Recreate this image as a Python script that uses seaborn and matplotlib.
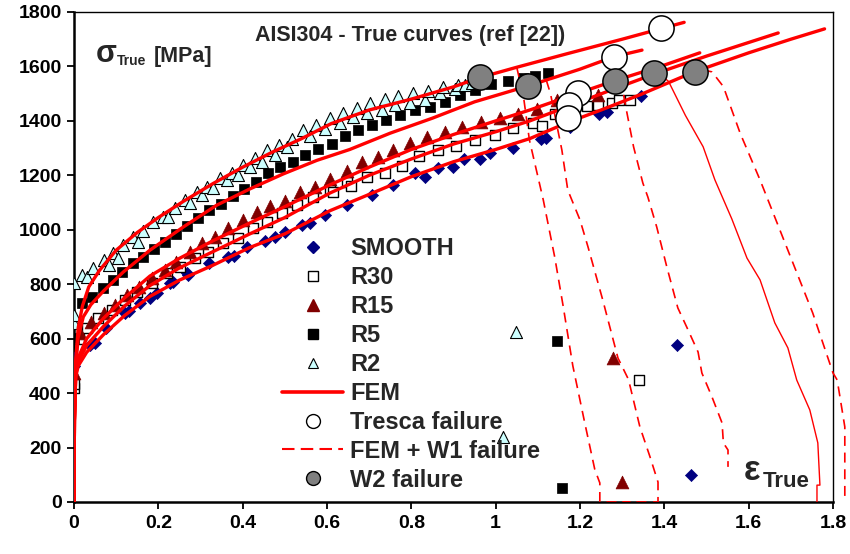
import numpy as np
import seaborn as sns
import matplotlib.pyplot as plt
from matplotlib.lines import Line2D

# ---- experimental points (true strain, true stress [MPa]) ----
smooth_x = [0, 0, 0.038, 0.05, 0.077, 0.121, 0.13, 0.157, 0.18, 0.196,
            0.228, 0.235, 0.267, 0.271, 0.321, 0.366, 0.38, 0.41, 0.453, 0.477,
            0.5, 0.54, 0.56, 0.595, 0.647, 0.706, 0.757, 0.809, 0.832, 0.864,
            0.898, 0.925, 0.964, 0.986, 1.04, 1.107, 1.12, 1.176, 1.246, 1.263,
            1.344, 1.43, 1.463]
smooth_y = [500, 528, 577, 585, 638, 693, 700, 730, 748, 767,
            803, 808, 840, 834, 877, 901, 905, 938, 959, 972,
            993, 1018, 1025, 1054, 1091, 1128, 1165, 1207, 1195, 1226,
            1229, 1259, 1260, 1281, 1299, 1332, 1336, 1379, 1425, 1434,
            1492, 577, 99]

r30_x = [0, 0, 0.012, 0.03, 0.058, 0.089, 0.121, 0.15, 0.185, 0.22,
         0.251, 0.287, 0.318, 0.354, 0.39, 0.425, 0.457, 0.493, 0.528, 0.567,
         0.607, 0.615, 0.647, 0.658, 0.694, 0.737, 0.777, 0.819, 0.864, 0.907,
         0.951, 0.998, 1.042, 1.089, 1.11, 1.14, 1.217, 1.243, 1.275, 1.293,
         1.318, 1.34]
r30_y = [420, 432, 600, 638, 675, 705, 742, 770, 805, 840,
         864, 895, 920, 950, 969, 1005, 1030, 1061, 1091, 1119,
         1146, 1140, 1177, 1161, 1193, 1207, 1234, 1271, 1293, 1308,
         1330, 1348, 1373, 1394, 1381, 1425, 1455, 1458, 1467, 1477,
         1477, 448]

r15_x = [0, 0.014, 0.04, 0.07, 0.097, 0.125, 0.153, 0.184, 0.216, 0.243,
         0.275, 0.303, 0.334, 0.366, 0.4, 0.433, 0.465, 0.5, 0.536, 0.572,
         0.607, 0.647, 0.682, 0.722, 0.757, 0.797, 0.836, 0.88, 0.921, 0.965,
         1.01, 1.054, 1.099, 1.146, 1.243, 1.278, 1.30]
r15_y = [474, 620, 662, 693, 724, 760, 791, 822, 852, 883,
         918, 950, 975, 1005, 1036, 1067, 1086, 1104, 1137, 1158,
         1188, 1216, 1250, 1269, 1293, 1318, 1340, 1361, 1376, 1397,
         1412, 1427, 1443, 1477, 1495, 529, 73]

r5_x = [0, 0.018, 0.042, 0.068, 0.092, 0.115, 0.139, 0.164, 0.19, 0.216,
        0.242, 0.267, 0.295, 0.321, 0.348, 0.376, 0.404, 0.432, 0.459, 0.488,
        0.52, 0.548, 0.579, 0.611, 0.643, 0.674, 0.706, 0.741, 0.773, 0.809,
        0.844, 0.88, 0.915, 0.951, 0.99, 1.03, 1.066, 1.093, 1.125, 1.145, 1.157]
r5_y = [601, 732, 754, 785, 816, 846, 877, 899, 928, 956,
        985, 1014, 1042, 1073, 1095, 1124, 1149, 1177, 1207, 1230,
        1250, 1275, 1296, 1315, 1345, 1367, 1385, 1403, 1422, 1440,
        1452, 1471, 1495, 1514, 1536, 1548, 1559, 1565, 1575, 591, 51]

r2_x = [0, 0, 0, 0.018, 0.03, 0.046, 0.07, 0.082, 0.093, 0.105,
        0.117, 0.141, 0.152, 0.164, 0.188, 0.212, 0.224, 0.24, 0.263, 0.275,
        0.291, 0.303, 0.315, 0.33, 0.346, 0.362, 0.374, 0.39, 0.401, 0.417,
        0.429, 0.445, 0.457, 0.477, 0.485, 0.504, 0.516, 0.544, 0.56, 0.575,
        0.595, 0.607, 0.631, 0.639, 0.662, 0.67, 0.694, 0.702, 0.73, 0.737,
        0.761, 0.769, 0.797, 0.805, 0.832, 0.84, 0.868, 0.876, 0.903, 0.911,
        0.927, 0.945, 1.048, 1.017]
r2_y = [656, 687, 803, 834, 828, 858, 889, 870, 916, 897,
        944, 975, 955, 996, 1030, 1048, 1048, 1079, 1109, 1097,
        1140, 1128, 1158, 1152, 1189, 1183, 1210, 1201, 1238, 1232,
        1263, 1250, 1293, 1275, 1312, 1305, 1335, 1367, 1345, 1385,
        1372, 1410, 1391, 1428, 1413, 1446, 1428, 1465, 1440, 1479,
        1458, 1492, 1467, 1504, 1475, 1508, 1501, 1523, 1516, 1532,
        1532, 1540, 624, 239]

# ---- FEM curves ----
fem_r2_x = [0, 0.001, 0.004, 0.01, 0.02, 0.035, 0.06, 0.1, 0.15, 0.2, 0.26, 0.33,
            0.4, 0.47, 0.54, 0.61, 0.7, 0.8, 0.9, 0.96, 1.05, 1.17, 1.3, 1.39, 1.447]
fem_r2_y = [0, 300, 520, 640, 720, 790, 850, 925, 990, 1045, 1105, 1170,
            1230, 1285, 1335, 1390, 1440, 1480, 1525, 1558, 1597, 1647, 1700, 1738, 1762]

fem_r5_x = [0, 0.001, 0.004, 0.01, 0.022, 0.04, 0.07, 0.117, 0.18, 0.259, 0.338,
            0.417, 0.496, 0.576, 0.654, 0.75, 0.85, 0.95, 1.076, 1.2, 1.281, 1.347]
fem_r5_y = [0, 300, 500, 605, 680, 725, 775, 845, 925, 1010, 1090,
            1150, 1205, 1255, 1295, 1355, 1410, 1470, 1528, 1590, 1636, 1660]

fem_r15_x = [0, 0.001, 0.004, 0.01, 0.03, 0.07, 0.12, 0.18, 0.25, 0.33, 0.417,
             0.5, 0.607, 0.7, 0.8, 0.9, 1.0, 1.081, 1.196, 1.283, 1.4, 1.484]
fem_r15_y = [0, 300, 470, 530, 600, 675, 750, 830, 895, 960, 1025,
             1085, 1165, 1230, 1295, 1350, 1400, 1440, 1502, 1548, 1605, 1650]

fem_r30_x = [0, 0.001, 0.004, 0.01, 0.03, 0.07, 0.12, 0.18, 0.25, 0.33, 0.417,
             0.5, 0.607, 0.7, 0.8, 0.9, 1.0, 1.081, 1.175, 1.28, 1.376, 1.5, 1.6, 1.67]
fem_r30_y = [0, 300, 465, 515, 575, 645, 720, 795, 860, 920, 985,
             1045, 1135, 1200, 1260, 1315, 1360, 1400, 1455, 1517, 1572, 1638, 1688, 1723]

fem_smooth_x = [0, 0.001, 0.004, 0.01, 0.03, 0.07, 0.12, 0.18, 0.25, 0.33, 0.417,
                0.5, 0.607, 0.7, 0.8, 0.9, 1.0, 1.081, 1.172, 1.25, 1.344, 1.472,
                1.6, 1.7, 1.78]
fem_smooth_y = [0, 300, 460, 500, 550, 615, 685, 755, 815, 870, 935,
                985, 1070, 1130, 1195, 1250, 1295, 1335, 1395, 1440, 1497, 1581,
                1650, 1700, 1738]

# ---- FEM + W1 failure curves ----
w1_r2_x = [1.05, 1.066, 1.08, 1.113, 1.14, 1.16, 1.183, 1.21, 1.235, 1.247, 1.247, 1.32]
w1_r2_y = [1597, 1489, 1330, 1109, 900, 720, 500, 300, 120, 70, 0, 0]

w1_r5_x = [1.12, 1.13, 1.157, 1.171, 1.2, 1.219, 1.254, 1.29, 1.315, 1.342, 1.366, 1.385, 1.385, 1.3]
w1_r5_y = [1550, 1500, 1293, 1146, 1036, 937, 742, 529, 450, 276, 166, 73, 0, 0]

w1_r15_x = [1.29, 1.3, 1.31, 1.327, 1.349, 1.361, 1.382, 1.406, 1.432, 1.453,
            1.48, 1.489, 1.513, 1.537, 1.54, 1.551, 1.551]
w1_r15_y = [1552, 1526, 1440, 1305, 1172, 1120, 1010, 863, 713, 643,
            551, 474, 386, 290, 217, 191, 129]

w1_r30_x = [1.385, 1.41, 1.45, 1.492, 1.52, 1.56, 1.596, 1.627, 1.662, 1.693,
            1.714, 1.745, 1.764, 1.769, 1.762, 1.762]
w1_r30_y = [1578, 1545, 1420, 1305, 1183, 1040, 896, 816, 658, 566,
            448, 338, 217, 62, 62, 0]

w1_smooth_x = [1.49, 1.513, 1.54, 1.58, 1.627, 1.658, 1.705, 1.752, 1.8, 1.81, 1.828, 1.828]
w1_smooth_y = [1588, 1580, 1526, 1354, 1183, 1062, 878, 694, 474, 448, 276, 7]

# ---- failure points ----
tresca_x = [1.391, 1.281, 1.196, 1.175, 1.172]
tresca_y = [1740, 1636, 1504, 1458, 1410]
w2_x = [0.962, 1.076, 1.283, 1.376, 1.472]
w2_y = [1560, 1528, 1548, 1575, 1581]

xtick_labels = ["0", "0.2", "0.4", "0.6", "0.8", "1", "1.2", "1.4", "1.6", "1.8"]

sns.set_theme(style="white")
plt.rcParams['font.family'] = ['Liberation Sans', 'DejaVu Sans']
plt.rcParams['font.weight'] = 'bold'

fig = plt.figure(figsize=(8.5, 5.54), dpi=100)
ax = fig.add_axes([74 / 850, 1 - 502 / 554, (833 - 74) / 850, (502 - 12) / 554])

red = '#ff0000'
navy = '#000080'
maroon = '#800000'
cyan = '#ccffff'

# experimental markers
sns.scatterplot(x=smooth_x, y=smooth_y, ax=ax, marker='D', s=38, color=navy,
                edgecolor=navy, linewidth=0.5, zorder=3)
sns.scatterplot(x=r30_x, y=r30_y, ax=ax, marker='s', s=48, color='white',
                edgecolor='black', linewidth=1.0, zorder=3)
sns.scatterplot(x=r15_x, y=r15_y, ax=ax, marker='^', s=85, color=maroon,
                edgecolor=maroon, linewidth=0.5, zorder=3)
sns.scatterplot(x=r5_x, y=r5_y, ax=ax, marker='s', s=52, color='black',
                edgecolor='black', linewidth=0.5, zorder=3)
sns.scatterplot(x=r2_x, y=r2_y, ax=ax, marker='^', s=75, color=cyan,
                edgecolor='black', linewidth=0.8, zorder=3)

# FEM curves
for fx, fy in [(fem_r2_x, fem_r2_y), (fem_r5_x, fem_r5_y), (fem_r15_x, fem_r15_y),
               (fem_r30_x, fem_r30_y), (fem_smooth_x, fem_smooth_y)]:
    sns.lineplot(x=fx, y=fy, ax=ax, sort=False, estimator=None, color=red,
                 linewidth=2.4, zorder=4)

# FEM + W1 failure
for wx, wy in [(w1_r2_x, w1_r2_y), (w1_r5_x, w1_r5_y), (w1_r15_x, w1_r15_y)]:
    sns.lineplot(x=wx, y=wy, ax=ax, sort=False, estimator=None, color=red,
                 linewidth=1.2, linestyle=(0, (6, 4)), zorder=4)
sns.lineplot(x=w1_r30_x, y=w1_r30_y, ax=ax, sort=False, estimator=None, color=red,
             linewidth=1.0, zorder=4)
sns.lineplot(x=w1_smooth_x, y=w1_smooth_y, ax=ax, sort=False, estimator=None, color=red,
             linewidth=1.2, linestyle=(0, (6, 4)), zorder=4, clip_on=False)

# failure points
sns.scatterplot(x=tresca_x, y=tresca_y, ax=ax, marker='o', s=330, color='white',
                edgecolor='black', linewidth=1.1, zorder=6)
sns.scatterplot(x=w2_x, y=w2_y, ax=ax, marker='o', s=330, color='#808080',
                edgecolor='black', linewidth=1.1, zorder=6)

ax.set_xlim(0, 1.8)
ax.set_ylim(0, 1800)
ax.set_xticks(np.arange(0, 1.81, 0.2))
ax.set_xticklabels(xtick_labels)
ax.set_yticks(np.arange(0, 1801, 200))
ax.tick_params(axis='both', direction='out', length=5, width=1.3, labelsize=14,
               left=True, bottom=True, pad=4, colors='black')
for lab in ax.get_xticklabels() + ax.get_yticklabels():
    lab.set_fontweight('bold')
for side in ['left', 'bottom']:
    ax.spines[side].set_linewidth(1.8)
    ax.spines[side].set_color('black')
for side in ['top', 'right']:
    ax.spines[side].set_linewidth(1.0)
    ax.spines[side].set_color('black')
ax.set_xlabel('')
ax.set_ylabel('')

# texts
fig.text(410 / 850, 1 - 35 / 554, 'AISI304 - True curves (ref [22])', ha='center',
         va='center', fontsize=15.5, fontweight='bold')
fig.text(96 / 850, 1 - 62 / 554, 'σ', ha='left', va='baseline', fontsize=22, fontweight='bold')
fig.text(117 / 850, 1 - 65 / 554, 'True', ha='left', va='baseline', fontsize=10, fontweight='bold')
fig.text(154 / 850, 1 - 62 / 554, '[MPa]', ha='left', va='baseline', fontsize=15.5, fontweight='bold')
fig.text(744 / 850, 1 - 480 / 554, 'ε', ha='left', va='baseline', fontsize=25, fontweight='bold')
fig.text(763 / 850, 1 - 487 / 554, 'True', ha='left', va='baseline', fontsize=16, fontweight='bold')

# legend
handles = [
    Line2D([], [], linestyle='none', marker='D', ms=6, color=navy),
    Line2D([], [], linestyle='none', marker='s', ms=6.5, mfc='white', mec='black', mew=1.0),
    Line2D([], [], linestyle='none', marker='^', ms=8, color=maroon),
    Line2D([], [], linestyle='none', marker='s', ms=6.5, color='black'),
    Line2D([], [], linestyle='none', marker='^', ms=7, mfc=cyan, mec='black', mew=0.8),
    Line2D([], [], color=red, linewidth=2.6),
    Line2D([], [], linestyle='none', marker='o', ms=10, mfc='white', mec='black', mew=1.0),
    Line2D([], [], color=red, linewidth=1.5, linestyle=(0, (6, 3))),
    Line2D([], [], linestyle='none', marker='o', ms=10, mfc='#808080', mec='black', mew=1.0),
]
labels = ['SMOOTH', 'R30', 'R15', 'R5', 'R2', 'FEM', 'Tresca failure',
          'FEM + W1 failure', 'W2 failure']
ax.legend(handles, labels, loc='upper left', bbox_to_anchor=(0.274, 0.54),
          frameon=False, prop={'size': 17, 'weight': 'bold'}, handlelength=2.6,
          handletextpad=0.3, labelspacing=0.25, borderpad=0, borderaxespad=0)

fig.savefig('out.png', dpi=100)
